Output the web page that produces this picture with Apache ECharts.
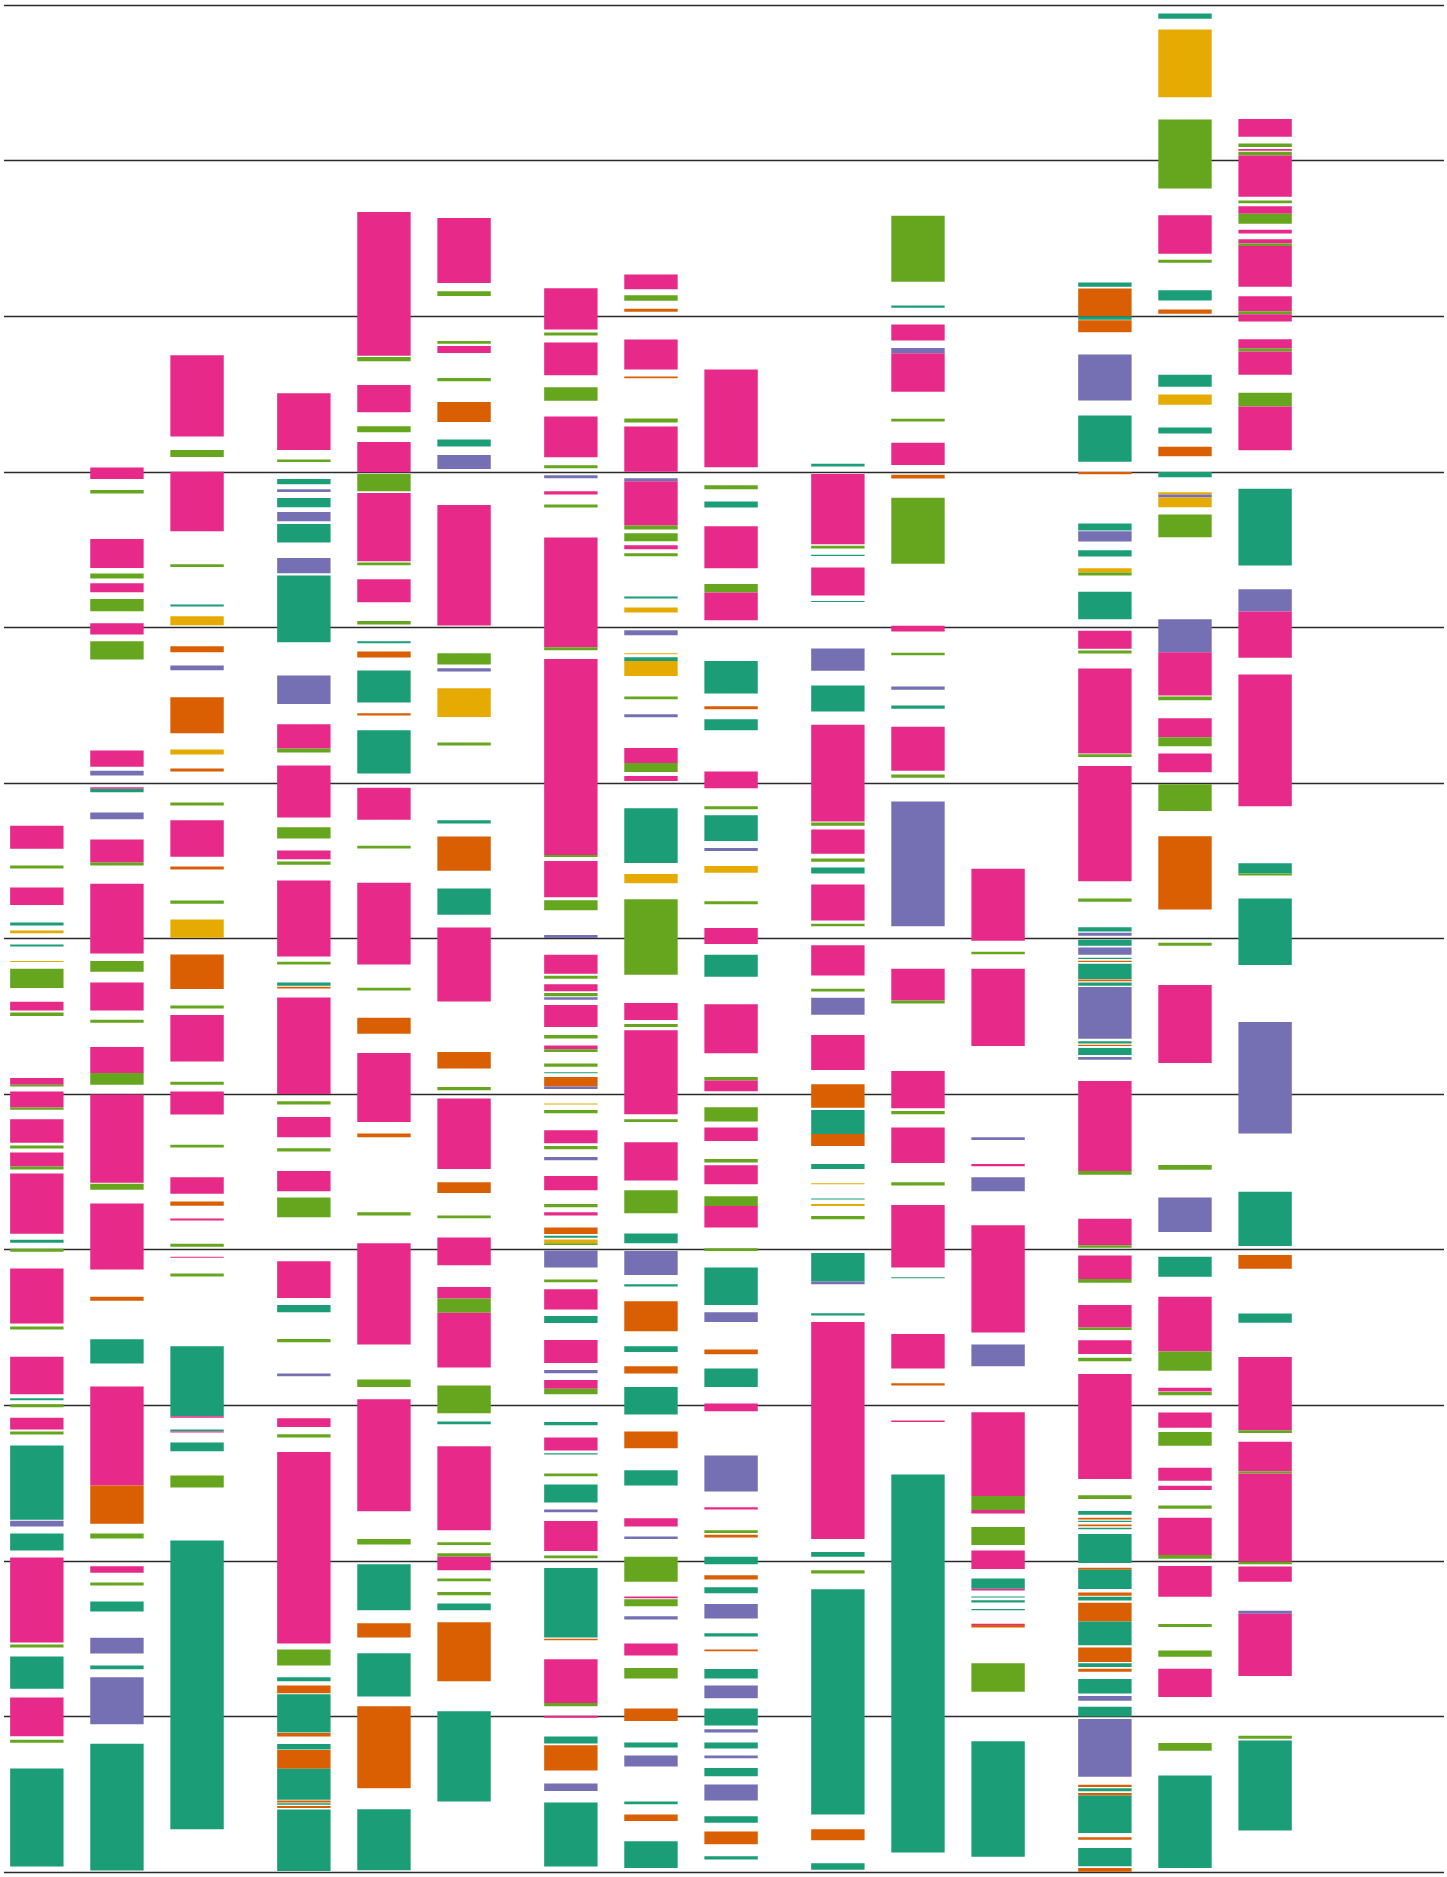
<!DOCTYPE html>
<html>
<head>
<meta charset="utf-8">
<script src="https://cdn.jsdelivr.net/npm/echarts@6/dist/echarts.min.js"></script>
<style>
  html, body { margin: 0; padding: 0; background: #ffffff; }
  #chart { width: 1447px; height: 1877px; }
</style>
</head>
<body>
<div id="chart"></div>
<script>
// Category colours (Dark2)
const palette = { T: '#1b9e77', O: '#d95f02', P: '#7570b3', K: '#e7298a', G: '#66a61e', Y: '#e6ab02' };

// Each column: list of [from, to, category] intervals
const col01 = [[6.577,6.725,'K'],[6.45,6.47,'G'],[6.216,6.327,'K'],[6.084,6.103,'T'],[6.033,6.052,'Y'],[5.948,5.961,'T'],[5.85,5.856,'Y'],[5.682,5.806,'G'],[5.537,5.594,'K'],[5.502,5.524,'G'],[5.06,5.104,'K'],[5.048,5.06,'G'],[4.914,5.016,'K'],[4.90,4.914,'G'],[4.688,4.838,'K'],[4.65,4.669,'G'],[4.535,4.624,'K'],[4.516,4.535,'G'],[4.102,4.49,'K'],[4.045,4.064,'T'],[3.987,4.006,'G'],[3.525,3.879,'K'],[3.487,3.506,'G'],[3.07,3.312,'K'],[3.032,3.045,'T'],[2.987,3.006,'G'],[2.844,2.92,'K'],[2.812,2.831,'G'],[2.264,2.742,'T'],[2.22,2.258,'P'],[2.067,2.175,'T'],[1.475,2.022,'K'],[1.443,1.462,'G'],[1.178,1.385,'T'],[0.873,1.121,'K'],[0.831,0.85,'G'],[0.035,0.666,'T']];

const col02 = [[8.953,9.028,'K'],[8.861,8.883,'G'],[8.381,8.567,'K'],[8.314,8.346,'G'],[8.226,8.283,'K'],[8.103,8.182,'G'],[7.954,8.027,'K'],[7.793,7.91,'G'],[7.104,7.209,'K'],[7.047,7.079,'P'],[6.94,6.962,'T'],[6.962,6.972,'K'],[6.766,6.81,'P'],[6.488,6.637,'K'],[6.469,6.488,'G'],[5.904,6.352,'K'],[5.787,5.856,'G'],[5.537,5.717,'K'],[5.458,5.477,'G'],[5.136,5.303,'K'],[5.06,5.136,'G'],[4.43,4.997,'K'],[4.385,4.424,'G'],[3.873,4.296,'K'],[3.672,3.697,'O'],[3.268,3.424,'T'],[2.484,3.121,'K'],[2.239,2.484,'O'],[2.143,2.175,'G'],[1.924,1.965,'K'],[1.841,1.86,'G'],[1.675,1.739,'T'],[1.404,1.506,'P'],[1.303,1.328,'T'],[0.949,1.252,'P'],[0.01,0.825,'T']];

const col03 = [[9.227,9.749,'K'],[9.095,9.139,'G'],[8.618,9.0,'K'],[8.387,8.406,'G'],[8.134,8.147,'T'],[8.014,8.071,'Y'],[7.84,7.878,'O'],[7.724,7.755,'P'],[7.319,7.55,'O'],[7.183,7.215,'Y'],[7.073,7.092,'O'],[6.855,6.874,'G'],[6.526,6.76,'K'],[6.444,6.463,'O'],[6.223,6.245,'G'],[6.005,6.122,'Y'],[5.676,5.897,'O'],[5.55,5.569,'G'],[5.209,5.509,'K'],[5.06,5.079,'G'],[4.869,5.016,'K'],[4.656,4.675,'G'],[4.36,4.465,'K'],[4.283,4.309,'O'],[4.188,4.201,'K'],[4.019,4.038,'G'],[3.949,3.955,'K'],[3.828,3.847,'G'],[2.93,3.379,'T'],[2.92,2.93,'K'],[2.831,2.844,'T'],[2.825,2.831,'K'],[2.704,2.761,'T'],[2.471,2.548,'G'],[0.274,2.131,'T']];

const col04 = [[9.139,9.505,'K'],[9.062,9.079,'G'],[8.919,8.954,'T'],[8.87,8.888,'P'],[8.772,8.832,'T'],[8.682,8.741,'P'],[8.546,8.664,'T'],[8.347,8.445,'P'],[7.904,8.333,'T'],[7.507,7.691,'P'],[7.221,7.377,'K'],[7.196,7.221,'G'],[6.778,7.112,'K'],[6.642,6.715,'G'],[6.509,6.565,'K'],[6.474,6.495,'G'],[5.885,6.373,'K'],[5.833,5.85,'G'],[5.697,5.717,'T'],[5.679,5.69,'O'],[5.0,5.62,'K'],[4.933,4.954,'G'],[4.722,4.852,'K'],[4.631,4.652,'G'],[4.375,4.505,'K'],[4.209,4.336,'G'],[3.689,3.925,'K'],[3.598,3.644,'T'],[3.405,3.426,'G'],[3.187,3.204,'P'],[2.86,2.916,'K'],[2.793,2.814,'G'],[1.469,2.699,'K'],[1.328,1.43,'G'],[1.226,1.251,'T'],[1.149,1.198,'O'],[0.896,1.142,'T'],[0.871,0.893,'O'],[0.787,0.822,'T'],[0.664,0.784,'O'],[0.464,0.664,'T'],[0.446,0.46,'O'],[0.432,0.442,'T'],[0.411,0.425,'O'],[0.007,0.401,'T']];

const col05 = [[9.745,10.67,'K'],[9.711,9.738,'G'],[9.383,9.557,'K'],[9.254,9.292,'G'],[8.996,9.191,'K'],[8.874,8.985,'G'],[8.424,8.863,'K'],[8.399,8.417,'G'],[8.162,8.309,'K'],[8.019,8.04,'G'],[7.897,7.911,'T'],[7.806,7.845,'O'],[7.517,7.723,'T'],[7.433,7.447,'O'],[7.06,7.339,'T'],[6.764,6.969,'K'],[6.579,6.596,'G'],[5.833,6.359,'K'],[5.665,5.683,'G'],[5.387,5.491,'O'],[4.821,5.264,'K'],[4.722,4.747,'O'],[4.22,4.241,'G'],[3.391,4.041,'K'],[3.117,3.166,'G'],[2.319,3.039,'K'],[2.105,2.14,'G'],[1.683,1.978,'T'],[1.507,1.599,'O'],[1.128,1.406,'T'],[0.538,1.065,'O'],[0.011,0.404,'T']];

const col06 = [[10.213,10.631,'K'],[10.129,10.16,'G'],[9.822,9.84,'G'],[9.763,9.808,'K'],[9.582,9.602,'G'],[9.32,9.449,'O'],[9.163,9.208,'T'],[9.017,9.107,'P'],[8.012,8.786,'K'],[7.761,7.834,'G'],[7.716,7.737,'P'],[7.423,7.608,'Y'],[7.241,7.259,'G'],[6.739,6.76,'T'],[6.436,6.656,'O'],[6.153,6.321,'T'],[5.595,6.07,'K'],[5.165,5.271,'O'],[5.025,5.046,'G'],[4.519,4.972,'K'],[4.364,4.434,'O'],[4.202,4.22,'G'],[3.9,4.079,'K'],[3.686,3.76,'K'],[3.595,3.686,'G'],[3.243,3.595,'K'],[2.948,3.127,'G'],[2.878,2.895,'T'],[2.196,2.737,'K'],[2.101,2.119,'G'],[2.027,2.048,'G'],[1.94,2.027,'K'],[1.869,1.887,'G'],[1.778,1.799,'G'],[1.683,1.725,'T'],[1.226,1.606,'O'],[0.453,1.033,'T']];

const col07 = [[9.914,10.179,'K'],[9.875,9.895,'G'],[9.62,9.831,'K'],[9.457,9.543,'G'],[9.093,9.355,'K'],[9.022,9.042,'G'],[8.958,8.978,'P'],[8.853,8.875,'K'],[8.77,8.789,'G'],[7.872,8.578,'K'],[7.853,7.872,'G'],[6.537,7.796,'K'],[6.524,6.537,'G'],[6.265,6.498,'K'],[6.182,6.246,'G'],[6.003,6.022,'P'],[5.773,5.895,'K'],[5.741,5.76,'G'],[5.661,5.706,'K'],[5.629,5.649,'G'],[5.607,5.623,'P'],[5.431,5.572,'K'],[5.358,5.379,'G'],[5.288,5.313,'K'],[5.271,5.288,'G'],[5.176,5.197,'G'],[5.134,5.141,'T'],[5.049,5.109,'O'],[5.032,5.049,'P'],[4.933,4.94,'Y'],[4.877,4.898,'G'],[4.684,4.768,'K'],[4.645,4.666,'G'],[4.575,4.596,'P'],[4.382,4.473,'K'],[4.273,4.294,'G'],[4.22,4.241,'K'],[4.1,4.143,'O'],[4.076,4.09,'T'],[4.041,4.065,'Y'],[4.03,4.041,'G'],[3.886,3.995,'P'],[3.791,3.809,'G'],[3.616,3.746,'K'],[3.528,3.573,'T'],[3.271,3.419,'K'],[3.205,3.226,'P'],[3.106,3.162,'K'],[3.071,3.106,'G'],[2.871,2.892,'T'],[2.709,2.793,'K'],[2.684,2.691,'T'],[2.544,2.562,'G'],[2.375,2.491,'T'],[2.312,2.33,'P'],[2.063,2.256,'K'],[2.017,2.034,'G'],[1.507,1.954,'T'],[1.49,1.5,'O'],[1.086,1.367,'K'],[1.065,1.086,'G'],[0.991,1.005,'K'],[0.826,0.871,'T'],[0.653,0.815,'O'],[0.52,0.569,'P'],[0.035,0.446,'T']];

const col08 = [[10.173,10.268,'K'],[10.099,10.134,'G'],[10.029,10.048,'O'],[9.658,9.85,'K'],[9.601,9.613,'O'],[9.316,9.342,'G'],[9.0,9.291,'K'],[8.939,8.958,'P'],[8.655,8.939,'K'],[8.629,8.655,'G'],[8.553,8.604,'G'],[8.502,8.527,'K'],[8.457,8.476,'G'],[8.185,8.198,'T'],[8.096,8.128,'Y'],[7.949,7.981,'P'],[7.827,7.834,'Y'],[7.783,7.808,'T'],[7.687,7.783,'Y'],[7.537,7.556,'G'],[7.422,7.441,'P'],[7.128,7.224,'K'],[7.07,7.128,'G'],[7.013,7.045,'K'],[6.486,6.837,'T'],[6.355,6.415,'Y'],[5.767,6.252,'G'],[5.476,5.585,'K'],[5.431,5.45,'G'],[4.87,5.411,'K'],[4.821,4.838,'G'],[4.445,4.691,'K'],[4.234,4.382,'G'],[4.041,4.104,'T'],[3.837,3.992,'P'],[3.763,3.777,'T'],[3.475,3.668,'O'],[3.342,3.38,'T'],[3.204,3.25,'O'],[2.941,3.117,'T'],[2.723,2.832,'O'],[2.484,2.583,'T'],[2.221,2.273,'K'],[2.14,2.157,'P'],[1.866,2.027,'G'],[1.76,1.771,'K'],[1.708,1.753,'G'],[1.623,1.644,'P'],[1.391,1.469,'K'],[1.244,1.311,'G'],[0.97,1.051,'O'],[0.801,0.833,'T'],[0.678,0.748,'P'],[0.436,0.453,'T'],[0.327,0.369,'O'],[0.025,0.197,'T']];

const col09 = [[9.029,9.658,'K'],[8.888,8.914,'G'],[8.77,8.808,'T'],[8.38,8.649,'K'],[8.224,8.278,'G'],[8.045,8.224,'K'],[7.575,7.783,'T'],[7.473,7.492,'O'],[7.339,7.409,'T'],[6.965,7.073,'K'],[6.831,6.85,'G'],[6.626,6.792,'T'],[6.562,6.581,'P'],[6.422,6.466,'Y'],[6.22,6.24,'G'],[5.965,6.067,'K'],[5.754,5.895,'T'],[5.263,5.578,'K'],[5.088,5.109,'G'],[5.018,5.088,'K'],[4.824,4.916,'G'],[4.698,4.786,'K'],[4.561,4.582,'G'],[4.42,4.543,'K'],[4.28,4.343,'G'],[4.143,4.28,'K'],[3.992,4.009,'G'],[3.644,3.886,'T'],[3.535,3.598,'P'],[3.327,3.359,'O'],[3.117,3.236,'T'],[2.962,3.011,'K'],[2.446,2.677,'P'],[2.33,2.344,'K'],[2.179,2.196,'G'],[2.15,2.168,'O'],[1.978,2.027,'T'],[1.88,1.908,'O'],[1.792,1.831,'T'],[1.63,1.722,'P'],[1.514,1.535,'T'],[1.419,1.43,'O'],[1.244,1.304,'T'],[1.117,1.198,'P'],[0.942,1.051,'T'],[0.896,0.917,'P'],[0.794,0.833,'T'],[0.731,0.748,'P'],[0.615,0.668,'T'],[0.46,0.562,'P'],[0.316,0.358,'T'],[0.179,0.26,'O'],[0.081,0.102,'T']];

const col10 = [[9.034,9.051,'T'],[8.534,8.986,'K'],[8.507,8.524,'G'],[8.459,8.466,'T'],[8.204,8.384,'K'],[8.163,8.17,'T'],[7.721,7.864,'P'],[7.459,7.626,'T'],[6.752,7.374,'K'],[6.724,6.745,'G'],[6.544,6.701,'K'],[6.493,6.514,'G'],[6.418,6.456,'T'],[6.116,6.347,'K'],[6.078,6.095,'G'],[5.762,5.956,'K'],[5.66,5.677,'G'],[5.51,5.619,'P'],[5.155,5.379,'K'],[4.912,5.063,'O'],[4.743,4.898,'T'],[4.666,4.743,'O'],[4.519,4.55,'T'],[4.42,4.427,'Y'],[4.322,4.329,'T'],[4.28,4.294,'Y'],[4.195,4.216,'G'],[3.795,3.978,'T'],[3.777,3.795,'P'],[3.577,3.591,'T'],[2.14,3.535,'K'],[2.027,2.056,'T'],[1.919,1.94,'G'],[0.369,1.817,'T'],[0.204,0.274,'O'],[0.014,0.056,'T']];

const col11 = [[10.221,10.646,'G'],[10.054,10.068,'T'],[9.844,9.946,'K'],[9.762,9.796,'P'],[9.514,9.762,'K'],[9.323,9.34,'G'],[9.044,9.187,'K'],[8.956,8.98,'O'],[8.408,8.833,'G'],[7.973,8.01,'K'],[7.82,7.837,'G'],[7.599,7.619,'P'],[7.476,7.497,'T'],[7.078,7.361,'K'],[7.034,7.054,'G'],[6.078,6.881,'P'],[5.602,5.806,'K'],[5.582,5.602,'G'],[4.909,5.148,'K'],[4.87,4.891,'G'],[4.557,4.786,'K'],[4.413,4.434,'G'],[3.886,4.287,'K'],[3.816,3.823,'T'],[3.236,3.458,'K'],[3.127,3.141,'O'],[2.892,2.902,'K'],[0.126,2.555,'T']];

const col12 = [[5.986,6.449,'K'],[5.898,5.915,'G'],[5.309,5.806,'K'],[4.705,4.722,'P'],[4.536,4.55,'K'],[4.375,4.466,'P'],[3.468,4.157,'K'],[3.25,3.391,'P'],[2.417,2.955,'K'],[2.326,2.417,'G'],[2.305,2.326,'K'],[2.101,2.217,'G'],[1.947,2.066,'K'],[1.82,1.887,'T'],[1.81,1.82,'K'],[1.764,1.771,'T'],[1.732,1.746,'T'],[1.683,1.69,'T'],[1.588,1.595,'K'],[1.571,1.588,'O'],[1.159,1.342,'G'],[0.098,0.84,'T']];

const col13 = [[10.189,10.216,'T'],[10.0,10.178,'O'],[9.977,10.0,'T'],[9.897,9.974,'O'],[9.458,9.754,'P'],[9.065,9.361,'T'],[8.984,8.999,'O'],[8.622,8.668,'T'],[8.552,8.618,'P'],[8.456,8.495,'T'],[8.352,8.379,'Y'],[8.333,8.352,'G'],[8.052,8.229,'T'],[7.863,7.978,'K'],[7.832,7.851,'G'],[7.189,7.736,'K'],[7.166,7.185,'G'],[6.368,7.108,'K'],[6.237,6.257,'G'],[6.045,6.072,'T'],[6.018,6.037,'P'],[5.953,5.992,'T'],[5.895,5.942,'P'],[5.868,5.876,'T'],[5.849,5.857,'O'],[5.74,5.837,'T'],[5.725,5.736,'O'],[5.697,5.717,'T'],[5.356,5.689,'P'],[5.325,5.34,'T'],[5.309,5.317,'O'],[5.251,5.297,'T'],[5.22,5.239,'P'],[4.505,5.084,'K'],[4.482,4.505,'G'],[4.028,4.199,'K'],[4.012,4.028,'G'],[3.811,3.962,'K'],[3.787,3.811,'G'],[3.5,3.644,'K'],[3.484,3.5,'G'],[3.329,3.418,'K'],[3.283,3.306,'G'],[2.526,3.201,'K'],[2.398,2.421,'G'],[2.297,2.32,'T'],[2.266,2.277,'O'],[2.249,2.258,'T'],[2.223,2.234,'O'],[2.203,2.212,'T'],[1.986,2.172,'T'],[1.943,1.955,'O'],[1.819,1.943,'T'],[1.776,1.796,'O'],[1.745,1.769,'T'],[1.61,1.73,'O'],[1.458,1.61,'T'],[1.349,1.443,'O'],[1.318,1.342,'T'],[1.287,1.307,'O'],[1.148,1.241,'T'],[1.101,1.132,'P'],[1.0,1.062,'T'],[0.612,0.984,'P'],[0.546,0.561,'O'],[0.519,0.538,'T'],[0.492,0.507,'O'],[0.251,0.492,'T'],[0.208,0.224,'O'],[0.037,0.154,'T'],[0.002,0.026,'O']];

const col14 = [[11.911,11.946,'T'],[11.407,11.842,'Y'],[10.821,11.264,'G'],[10.401,10.648,'K'],[10.344,10.363,'G'],[10.101,10.166,'T'],[10.016,10.043,'O'],[9.546,9.623,'T'],[9.431,9.496,'Y'],[9.246,9.284,'T'],[9.099,9.161,'O'],[8.965,8.999,'T'],[8.853,8.868,'Y'],[8.834,8.853,'P'],[8.772,8.834,'Y'],[8.579,8.726,'G'],[7.84,8.052,'P'],[7.562,7.84,'K'],[7.532,7.555,'G'],[7.293,7.416,'K'],[7.235,7.293,'G'],[7.069,7.189,'K'],[6.819,6.992,'G'],[6.187,6.657,'O'],[5.953,5.973,'G'],[5.2,5.701,'K'],[4.513,4.544,'G'],[4.113,4.335,'P'],[3.826,3.954,'T'],[3.345,3.698,'K'],[3.221,3.345,'G'],[3.089,3.112,'K'],[3.065,3.085,'G'],[2.856,2.953,'K'],[2.739,2.828,'G'],[2.514,2.599,'K'],[2.456,2.483,'K'],[2.335,2.355,'G'],[2.037,2.277,'K'],[2.013,2.037,'G'],[1.769,1.967,'K'],[1.575,1.594,'G'],[1.384,1.423,'G'],[1.124,1.307,'K'],[0.779,0.829,'G'],[0.026,0.62,'T']];

const col15 = [[11.153,11.268,'K'],[11.087,11.11,'G'],[11.064,11.074,'K'],[11.033,11.056,'G'],[10.767,11.033,'K'],[10.725,10.744,'G'],[10.659,10.706,'K'],[10.594,10.659,'G'],[10.532,10.555,'K'],[10.467,10.494,'K'],[10.451,10.467,'G'],[10.189,10.451,'K'],[10.032,10.128,'K'],[10.012,10.032,'G'],[9.966,10.012,'K'],[9.793,9.851,'K'],[9.773,9.793,'G'],[9.623,9.773,'K'],[9.419,9.508,'G'],[9.138,9.419,'K'],[8.398,8.891,'T'],[8.102,8.244,'P'],[7.805,8.102,'K'],[6.85,7.697,'K'],[6.418,6.484,'T'],[6.405,6.418,'G'],[5.829,6.257,'T'],[4.746,5.464,'P'],[4.024,4.373,'T'],[3.877,3.966,'O'],[3.531,3.589,'T'],[2.84,3.31,'K'],[2.821,2.84,'G'],[2.576,2.766,'K'],[2.561,2.576,'G'],[1.994,2.561,'K'],[1.978,1.994,'G'],[1.866,1.963,'K'],[1.66,1.679,'P'],[1.26,1.66,'K'],[0.856,0.876,'G'],[0.266,0.845,'T']];

// Columns are laid out in five groups of three
const columns = [col01, col02, col03, col04, col05, col06, col07, col08, col09, col10, col11, col12, col13, col14, col15];
const perGroup = 3;

// Flatten into [group, slot, from, to] rows plus their colour keys
const rows = [];
const keys = [];
columns.forEach((segs, c) => {
  segs.forEach(([from, to, key]) => {
    rows.push([Math.floor(c / perGroup), c % perGroup, from, to]);
    keys.push(key);
  });
});

const chart = echarts.init(document.getElementById('chart'), null, { renderer: 'canvas' });

chart.setOption({
  animation: false,
  backgroundColor: '#ffffff',
  grid: { left: 4, right: 3, top: 5, bottom: 5 },
  xAxis: {
    type: 'value',
    min: -0.423,
    max: 4.970,
    show: false
  },
  yAxis: {
    type: 'value',
    min: 0,
    max: 12,
    interval: 1,
    axisLine: { show: false },
    axisTick: { show: false },
    axisLabel: { show: false },
    splitLine: { show: true, lineStyle: { color: '#2a2a2a', width: 1.4 } }
  },
  series: [{
    type: 'custom',
    clip: false,
    encode: { x: 0, y: [2, 3] },
    data: rows,
    renderItem: function (params, api) {
      const g = api.value(0);
      const slot = api.value(1);
      const lo = api.coord([g, api.value(2)]);
      const hi = api.coord([g, api.value(3)]);
      const unit = api.size([1, 0])[0];
      const w = unit * 0.2;
      const cx = lo[0] + (slot - 1) * unit * 0.3;
      const h = Math.max(lo[1] - hi[1], 1);
      return {
        type: 'rect',
        shape: { x: cx - w / 2, y: hi[1], width: w, height: h },
        style: { fill: palette[keys[params.dataIndex]] }
      };
    }
  }]
});
</script>
</body>
</html>
